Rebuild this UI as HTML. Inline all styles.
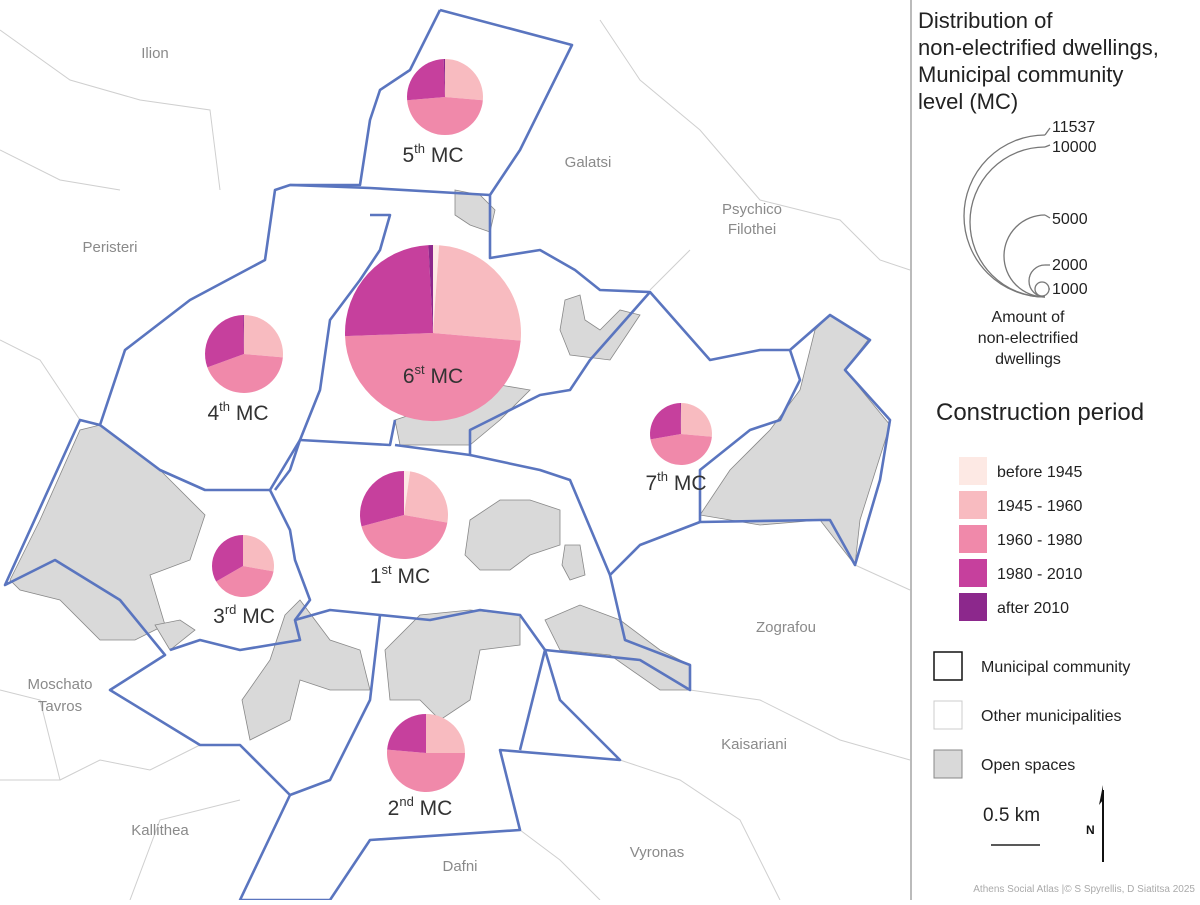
<!DOCTYPE html>
<html><head><meta charset="utf-8"><style>
body{margin:0;background:#fff;width:1200px;height:900px;overflow:hidden;font-family:"Liberation Sans",sans-serif}
svg text{font-family:"Liberation Sans",sans-serif}
</style></head><body>
<svg width="1200" height="900" viewBox="0 0 1200 900" xmlns="http://www.w3.org/2000/svg">
<rect width="1200" height="900" fill="#fff"/>
<!-- background municipal lines -->
<g stroke="#cfcfcf" stroke-width="1" fill="none">
<path d="M0,30 L70,80 L140,100 L210,110 L220,190"/>
<path d="M0,340 L40,360 L80,420"/>
<path d="M0,690 L40,700 L60,780 L0,780"/>
<path d="M60,780 L100,760 L150,770 L200,745"/>
<path d="M130,900 L160,820 L240,800"/>
<path d="M600,20 L640,80 L700,130 L760,200 L840,220 L880,260 L910,270"/>
<path d="M690,250 L650,290"/>
<path d="M690,690 L760,700 L840,740 L910,760"/>
<path d="M620,760 L680,780 L740,820 L780,900"/>
<path d="M520,830 L560,860 L600,900"/>
<path d="M855,565 L910,590"/>
<path d="M0,150 L60,180 L120,190"/>
</g>
<!-- grey open spaces -->
<g fill="#d9d9d9" stroke="#888" stroke-width="0.8">
<path d="M10,580 L40,520 L80,430 L100,425 L160,470 L205,515 L190,560 L150,575 L165,625 L135,640 L100,640 L60,600 L20,590 Z"/>
<path d="M700,515 L730,470 L770,430 L800,390 L815,330 L830,315 L868,340 L845,370 L890,425 L860,520 L855,565 L820,520 L760,525 Z"/>
<path d="M455,190 L480,195 L495,210 L490,232 L470,225 L455,215 Z"/>
<path d="M565,300 L580,295 L585,320 L600,330 L620,310 L640,315 L610,360 L570,355 L560,330 Z"/>
<path d="M395,420 L440,405 L470,385 L490,390 L500,385 L530,390 L500,420 L470,445 L430,445 L400,445 Z"/>
<path d="M470,520 L500,500 L530,500 L560,510 L560,545 L530,555 L510,570 L480,570 L465,555 Z"/>
<path d="M565,545 L580,545 L585,575 L570,580 L562,565 Z"/>
<path d="M545,620 L580,605 L620,620 L660,650 L690,665 L690,690 L660,690 L610,655 L560,650 Z"/>
<path d="M385,650 L420,615 L470,610 L520,615 L520,645 L480,650 L470,700 L440,720 L420,700 L390,700 Z"/>
<path d="M285,615 L300,600 L330,640 L360,650 L370,690 L330,690 L300,680 L290,720 L250,740 L242,700 L270,660 Z"/>
<path d="M155,625 L180,620 L195,630 L170,650 Z"/>
</g>
<!-- MC boundaries -->
<g stroke="#5a75bf" stroke-width="2.6" fill="none" stroke-linejoin="round">
<path d="M440,10 L572,45 L520,150 L490,195 L490,258 L540,250 L575,270 L600,290 L650,292 L710,360 L760,350 L790,350 L830,315 L870,340 L845,370 L890,420 L880,480 L855,565 L830,520 L820,520 L700,522 L640,545 L610,575 L625,640 L690,665 L690,690 L640,660 L545,650 L560,700 L620,760 L500,750 L520,830 L370,840 L330,900 L240,900 L290,795 L240,745 L200,745 L110,690 L165,655 L120,600 L55,560 L5,585 L80,420 L100,425 L125,350 L190,300 L265,260 L275,190 L290,185 L360,185 L370,120 L380,90 L410,70 L440,10"/>
<path d="M290,185 L370,188 L490,195"/>
<path d="M370,215 L390,215 L380,250 L360,280 L330,320 L320,390 L300,440 L390,445 L395,420"/>
<path d="M100,425 L160,470 L205,490 L270,490 L300,440"/>
<path d="M270,490 L290,530 L295,560 L310,600 L295,620 L300,640 L240,650 L200,640 L170,650"/>
<path d="M300,440 L290,470 L275,490"/>
<path d="M395,445 L470,455 L470,430 L490,420 L540,395 L570,390 L590,360 L650,292"/>
<path d="M470,455 L540,470 L570,480 L610,575"/>
<path d="M295,620 L330,610 L380,615 L430,620 L480,610 L520,615 L545,650"/>
<path d="M380,615 L370,700 L330,780 L290,795"/>
<path d="M545,650 L520,750"/>
<path d="M700,522 L700,470 L750,430 L780,420 L800,380 L790,350"/>
</g>
<!-- place labels -->
<g fill="#8a8a8a" font-size="15" text-anchor="middle">
<text x="155" y="58">Ilion</text>
<text x="110" y="252">Peristeri</text>
<text x="588" y="167">Galatsi</text>
<text x="752" y="214">Psychico</text><text x="752" y="234">Filothei</text>
<text x="786" y="632">Zografou</text>
<text x="60" y="689">Moschato</text><text x="60" y="711">Tavros</text>
<text x="754" y="749">Kaisariani</text>
<text x="160" y="835">Kallithea</text>
<text x="657" y="857">Vyronas</text>
<text x="460" y="871">Dafni</text>
</g>
<g id="pies"></g>
<g font-size="21" fill="#333" text-anchor="middle">
<text x="433" y="383">6<tspan font-size="13" dy="-9">st</tspan><tspan dy="9"> MC</tspan></text>
<text x="433" y="162">5<tspan font-size="13" dy="-9">th</tspan><tspan dy="9"> MC</tspan></text>
<text x="238" y="420">4<tspan font-size="13" dy="-9">th</tspan><tspan dy="9"> MC</tspan></text>
<text x="400" y="583">1<tspan font-size="13" dy="-9">st</tspan><tspan dy="9"> MC</tspan></text>
<text x="244" y="623">3<tspan font-size="13" dy="-9">rd</tspan><tspan dy="9"> MC</tspan></text>
<text x="676" y="490">7<tspan font-size="13" dy="-9">th</tspan><tspan dy="9"> MC</tspan></text>
<text x="420" y="815">2<tspan font-size="13" dy="-9">nd</tspan><tspan dy="9"> MC</tspan></text>
</g>
<!-- legend -->
<line x1="911" y1="0" x2="911" y2="900" stroke="#777" stroke-width="1"/>
<g font-size="22" fill="#222">
<text x="918" y="28">Distribution of</text>
<text x="918" y="55">non-electrified dwellings,</text>
<text x="918" y="82">Municipal community</text>
<text x="918" y="109">level (MC)</text>
</g>
<g stroke="#777" stroke-width="1.3" fill="none">
<path d="M1045,135 A81,81 0 0 0 1045,297"/><path d="M1045,135 L1050,128"/>
<path d="M1045,147 A75,75 0 0 0 1045,297"/><path d="M1045,147 L1050,145"/>
<path d="M1045,215 A41,41 0 0 0 1045,297"/><path d="M1045,215 L1050,218"/>
<path d="M1045,265 A16,16 0 0 0 1045,297"/><path d="M1045,265 L1050,265"/>
<circle cx="1042" cy="289" r="7"/><path d="M1049,289 L1050,289"/>
</g>
<g font-size="16" fill="#222">
<text x="1052" y="132">11537</text><text x="1052" y="152">10000</text>
<text x="1052" y="224">5000</text><text x="1052" y="270">2000</text><text x="1052" y="294">1000</text>
</g>
<g font-size="16" fill="#222" text-anchor="middle">
<text x="1028" y="322">Amount of</text><text x="1028" y="343">non-electrified</text><text x="1028" y="364">dwellings</text>
</g>
<text x="936" y="420" font-size="24" fill="#222">Construction period</text>
<g font-size="16" fill="#222">
<rect x="959" y="457" width="28" height="28" fill="#fde9e4"/><text x="997" y="477">before 1945</text>
<rect x="959" y="491" width="28" height="28" fill="#f8bbc0"/><text x="997" y="511">1945 - 1960</text>
<rect x="959" y="525" width="28" height="28" fill="#f089aa"/><text x="997" y="545">1960 - 1980</text>
<rect x="959" y="559" width="28" height="28" fill="#c6409d"/><text x="997" y="579">1980 - 2010</text>
<rect x="959" y="593" width="28" height="28" fill="#8c288c"/><text x="997" y="613">after 2010</text>
<rect x="934" y="652" width="28" height="28" fill="#fff" stroke="#111" stroke-width="1.5"/><text x="981" y="672">Municipal community</text>
<rect x="934" y="701" width="28" height="28" fill="#fff" stroke="#ccc" stroke-width="1"/><text x="981" y="721">Other municipalities</text>
<rect x="934" y="750" width="28" height="28" fill="#d9d9d9" stroke="#888" stroke-width="1"/><text x="981" y="770">Open spaces</text>
</g>
<text x="983" y="821" font-size="19" fill="#222">0.5 km</text>
<line x1="991" y1="845" x2="1040" y2="845" stroke="#222" stroke-width="1.5"/>
<line x1="1103" y1="862" x2="1103" y2="790" stroke="#111" stroke-width="2"/>
<path d="M1103,785 L1099,805 L1103,800 Z" fill="#111"/>
<text x="1086" y="834" font-size="12" font-weight="bold" fill="#111">N</text>
<text x="1195" y="892" font-size="10" fill="#aaa" text-anchor="end">Athens Social Atlas |© S Spyrellis, D Siatitsa 2025</text>
</svg>
<script>
var C=["#fde9e4","#f8bbc0","#f089aa","#c6409d","#8c288c"];
var pies=[
[433,333,88,[[0,0,4],[1,4,95],[2,95,268],[3,268,357],[4,357,360]]],
[445,97,38,[[1,0,95],[2,95,265],[3,265,358],[4,358,360]]],
[244,354,39,[[1,0,95],[2,95,250],[3,250,359],[4,359,360]]],
[404,515,44,[[0,0,8],[1,8,100],[2,100,255],[3,255,360]]],
[243,566,31,[[1,0,100],[2,100,240],[3,240,360]]],
[681,434,31,[[1,0,95],[2,95,260],[3,260,359],[4,359,360]]],
[426,753,39,[[1,0,90],[2,90,275],[3,275,360]]]];
var g=document.getElementById("pies"),s="";
function pt(cx,cy,r,a){a=(a-90)*Math.PI/180;return (cx+r*Math.cos(a)).toFixed(2)+","+(cy+r*Math.sin(a)).toFixed(2);}
pies.forEach(function(p){p[3].forEach(function(q){
var large=(q[2]-q[1])>180?1:0;
s+='<path fill="'+C[q[0]]+'" d="M'+p[0]+','+p[1]+' L'+pt(p[0],p[1],p[2],q[1])+' A'+p[2]+','+p[2]+' 0 '+large+' 1 '+pt(p[0],p[1],p[2],q[2])+' Z"/>';});});
g.innerHTML=s;
</script>
</body></html>
